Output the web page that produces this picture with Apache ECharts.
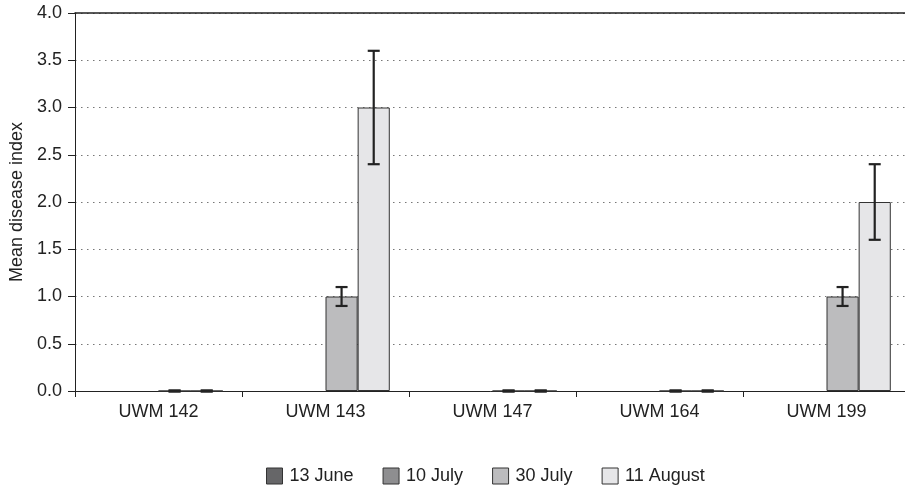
<!DOCTYPE html>
<html>
<head>
<meta charset="utf-8">
<script src="https://cdn.jsdelivr.net/npm/echarts@6/dist/echarts.min.js"></script>
<style>html,body{margin:0;padding:0;background:#fff}#c{width:905px;height:490px}</style>
</head>
<body>
<div id="c"></div>
<script>
const categories = ['UWM 142', 'UWM 143', 'UWM 147', 'UWM 164', 'UWM 199'];
const seriesNames = ['13 June', '10 July', '30 July', '11 August'];
const june13 = ['-', '-', '-', '-', '-'];
const july10 = ['-', '-', '-', '-', '-'];
const july30 = [0, 1.0, 0, 0, 1.0];
const aug11 = [0, 3.0, 0, 0, 2.0];
const july30Err = [0, 0.1, 0, 0, 0.1];
const aug11Err = [0, 0.6, 0, 0, 0.4];
const yTicks = ['0.0', '0.5', '1.0', '1.5', '2.0', '2.5', '3.0', '3.5', '4.0'];
const colors = ['#666668', '#8e8e90', '#bcbcbe', '#e6e6e8'];

const values = [june13, july10, july30, aug11];
const errs = [null, null, july30Err, aug11Err];
const catGap = 0.23;

const chart = echarts.init(document.getElementById('c'));
const font = 'Liberation Sans, Arial, sans-serif';

const barSeries = seriesNames.map((n, i) => ({
  name: n, type: 'bar', data: values[i], barGap: '0%', barCategoryGap: '23%',
  itemStyle: { color: colors[i], borderColor: '#333', borderWidth: 1 },
  emphasis: { disabled: true }, animation: false
}));

function errSeries(k) {
  const data = values[k].map((v, i) => [i, v, errs[k][i]]);
  return {
    type: 'custom', data: data, z: 10, animation: false, silent: true,
    renderItem: function (params, api) {
      const ci = api.value(0), v = api.value(1), e = api.value(2);
      const band = api.size([1, 0])[0];
      const bw = band * (1 - catGap) / 4;
      const c = api.coord([ci, v]);
      const x = c[0] + (k - 1.5) * bw;
      const top = api.coord([ci, v + e])[1];
      const bot = api.coord([ci, v - e])[1];
      const hw = 6;
      const st = { stroke: '#222', lineWidth: e === 0 ? 3 : 2.2 };
      return {
        type: 'group', children: [
          { type: 'line', shape: { x1: x, y1: top, x2: x, y2: bot }, style: st },
          { type: 'line', shape: { x1: x - hw, y1: top, x2: x + hw, y2: top }, style: st },
          { type: 'line', shape: { x1: x - hw, y1: bot, x2: x + hw, y2: bot }, style: st }
        ]
      };
    }
  };
}

chart.setOption({
  animation: false,
  color: colors,
  grid: { left: 75, top: 13, width: 835, height: 378, containLabel: false, outerBoundsMode: 'none' },
  legend: {
    data: seriesNames, top: 462, left: 261, icon: 'rect', itemWidth: 16, itemHeight: 16, itemGap: 29,
    textStyle: { fontFamily: font, fontSize: 18, color: '#222', padding: [0, 0, 0, 2] },
    itemStyle: { borderColor: '#333', borderWidth: 1 }
  },
  xAxis: [{
    type: 'category', data: categories,
    axisLine: { lineStyle: { color: '#222', width: 1 } },
    axisTick: { show: true, length: 6, lineStyle: { color: '#222' } },
    axisLabel: { fontFamily: font, fontSize: 18, color: '#222', margin: 12 }
  }, {
    type: 'category', data: categories, position: 'top',
    axisLine: { show: true, onZero: false, lineStyle: { color: '#222', width: 1.5 } },
    axisTick: { show: false }, axisLabel: { show: false }, splitLine: { show: false }
  }],
  yAxis: {
    type: 'value', min: 0, max: 4, interval: 0.5,
    name: 'Mean disease index', nameLocation: 'middle', nameGap: 48, nameRotate: 90,
    nameTextStyle: { fontFamily: font, fontSize: 18, color: '#222' },
    axisLine: { show: true, lineStyle: { color: '#222' } },
    axisTick: { show: true, length: 7, inside: false, lineStyle: { color: '#222' } },
    axisLabel: { fontFamily: font, fontSize: 18, color: '#222', margin: 13,
      formatter: function (v) { return yTicks[Math.round(v * 2)]; } },
    splitLine: { show: true, lineStyle: { color: '#777', type: [1.5, 4.5], width: 1 } }
  },
  series: barSeries.concat([errSeries(2), errSeries(3)])
});
</script>
</body>
</html>
